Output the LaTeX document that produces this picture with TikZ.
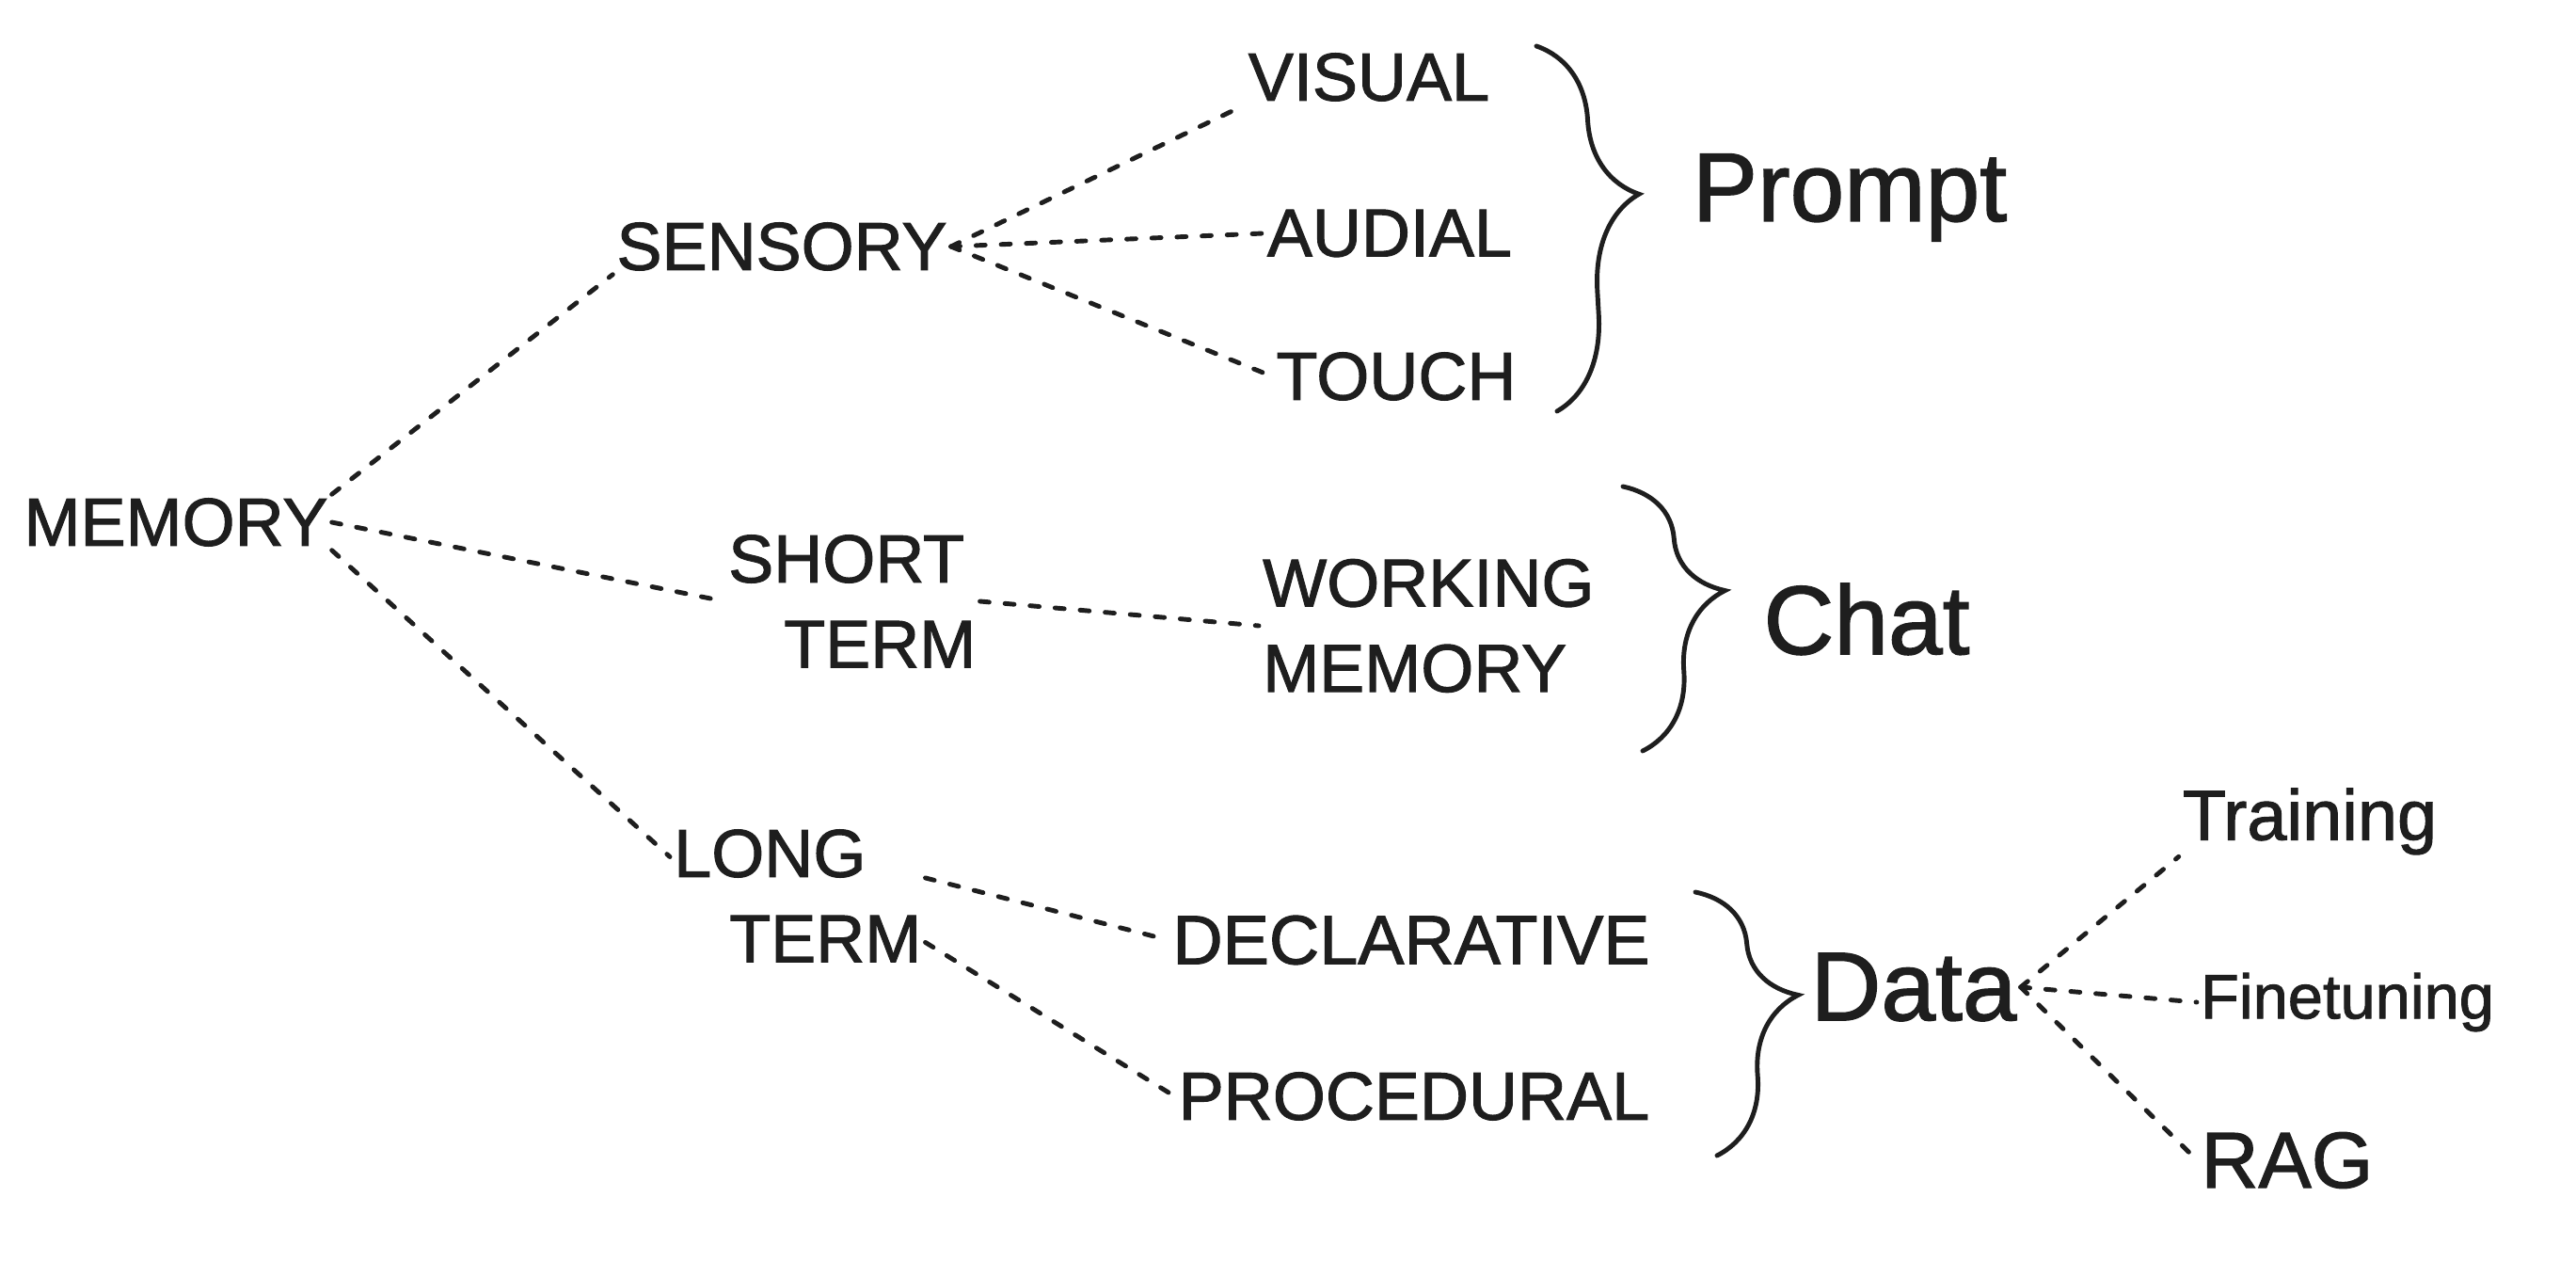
\documentclass[tikz,border=0pt]{standalone}
\usepackage{fontspec}
\setmainfont{Liberation Sans}[BoldFont=Liberation Sans, BoldFeatures={FakeBold=1.4}]
\usetikzlibrary{decorations.pathreplacing}
\definecolor{ink}{HTML}{1E1E1E}
\tikzstyle{word}=[inner sep=1pt, text=ink, font=\fontsize{20.5pt}{25.8pt}\selectfont\bfseries]
\tikzstyle{head}=[inner sep=1pt, text=ink, font=\fontsize{29.5pt}{35pt}\selectfont\bfseries]
\tikzstyle{link}=[draw=ink, line width=1.4pt, line cap=round, dash pattern=on 2.8pt off 4.8pt]
\tikzstyle{curly}=[draw=ink, line width=1.4pt, line cap=round, decorate, decoration={brace, amplitude=1cm, aspect=0.42}]

\begin{document}
\begin{tikzpicture}

      \useasboundingbox (0,0) rectangle (27.38,-13.40);

      \node[word] (memory) at (1.87,-5.55) {MEMORY};
      \node[word] (sensory) at (8.31,-2.62) {SENSORY};
      \node[word, align=left, anchor=west] (short) at (7.70,-6.39) {SHORT\\\hspace*{0.59cm}TERM};
      \node[word, align=left, anchor=west] (long) at (7.12,-9.52) {LONG\\\hspace*{0.59cm}TERM};
      \node[word] (visual) at (14.55,-0.82) {VISUAL};
      \node[word] (audial) at (14.77,-2.48) {AUDIAL};
      \node[word] (touch) at (14.84,-4.00) {TOUCH};
      \node[word, align=left, anchor=west] (working) at (13.38,-6.65) {WORKING\\MEMORY};
      \node[word, font=\fontsize{21pt}{26pt}\selectfont\bfseries] (declarative) at (15.00,-9.99) {DECLARATIVE};
      \node[word] (procedural) at (15.03,-11.65) {PROCEDURAL};
      \node[head] (prompt) at (19.66,-2.10) {Prompt};
      \node[head] (chat) at (19.84,-6.58) {Chat};
      \node[head] (data) at (20.34,-10.49) {Data};
      \node[word, font=\fontsize{21.5pt}{26pt}\selectfont\bfseries] (training) at (24.55,-8.73) {Training};
      \node[word, font=\fontsize{19pt}{23pt}\selectfont\bfseries] (finetuning) at (24.95,-10.65) {Finetuning};
      \node[word, font=\fontsize{24pt}{29pt}\selectfont\bfseries] (rag) at (24.31,-12.33) {RAG};

      \coordinate (pt) at (16.33,-0.49);
      \coordinate (pb) at (16.55,-4.37);
      \coordinate (ct) at (17.25,-5.17);
      \coordinate (cb) at (17.46,-7.98);
      \coordinate (dt) at (18.02,-9.48);
      \coordinate (db) at (18.25,-12.28);

      \draw[link] (memory.north east) -- (sensory.south west);
      \draw[link] (memory.east) -- (short.west);
      \draw[link] (memory.south east) -- (long.163);
      \draw[link] (sensory.east) -- (visual.south west);
      \draw[link] (sensory.east) -- (audial.west);
      \draw[link] (sensory.east) -- (touch.west);
      \draw[link] (short.east) -- (working.west);
      \draw[link] (long.8) -- (declarative.west);
      \draw[link] (long.-20) -- (procedural.west);
      \draw[link] (data.east) -- (training.195);
      \draw[link] (data.east) -- (finetuning.west);
      \draw[link] (data.east) -- (rag.west);

      \draw[curly] (pt) -- (pb);
      \draw[curly] (ct) -- (cb);
      \draw[curly] (dt) -- (db);

    \end{tikzpicture}
\end{document}
